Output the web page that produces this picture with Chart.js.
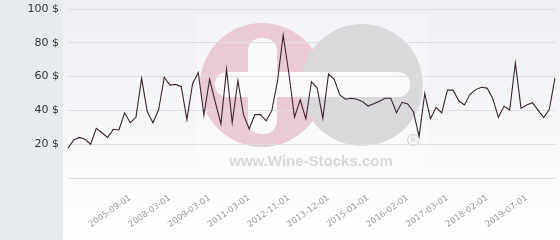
<!DOCTYPE html>
<html>
<head>
<meta charset="utf-8">
<script src="https://cdn.jsdelivr.net/npm/chart.js@4.4.1/dist/chart.umd.min.js"></script>
<style>
html,body{margin:0;padding:0;background:#fff;}
#c{display:block;}
</style>
</head>
<body>
<canvas id="c" width="560" height="240"></canvas>
<script>
// Price series (USD)
const prices = [17.6,22.5,24,22.9,20,29.4,26.8,24,28.8,28.4,
  38.6,32.7,35.9,59,39.2,32.7,40.4,59.6,55,55.4,
  54,34.5,55.8,62.4,37.3,58.4,45,32,64.3,32.7,
  57.6,37.3,29,37.5,37.5,33.8,40,57.5,84.6,62,
  35.9,46.2,35,57,53.2,35.3,61.5,58.5,49.1,46.6,
  47.2,46.6,45.2,42.6,44,45.4,47.2,47.2,38.6,44.8,
  43.8,39.2,24.6,50,35,41.8,38.5,52,52,45.7,
  43.2,49.5,52.3,53.7,53.2,47.2,35.9,42.4,40.2,68,
  41.2,43.2,44.6,40.2,35.7,40.6,59.3];
// Dates shown on the x axis
const tickDates = ['2005-09-01','2008-03-01','2009-03-01','2011-03-01','2012-11-01',
  '2013-12-01','2015-01-01','2016-02-01','2017-03-01','2018-02-01','2019-07-01'];
const firstTickIndex = 11;
const tickEvery = 7;
// y-axis tick values
const yTicks = [0,20,40,60,80,100];

const labels = prices.map((_, i) => {
  const k = i - firstTickIndex;
  return (k >= 0 && k % tickEvery === 0 && tickDates[k / tickEvery]) ? tickDates[k / tickEvery] : '';
});

function roundRect(ctx, x, y, w, h, r) {
  ctx.beginPath();
  ctx.moveTo(x + r, y);
  ctx.lineTo(x + w - r, y);
  ctx.arc(x + w - r, y + r, r, -Math.PI / 2, 0);
  ctx.lineTo(x + w, y + h - r);
  ctx.arc(x + w - r, y + h - r, r, 0, Math.PI / 2);
  ctx.lineTo(x + r, y + h);
  ctx.arc(x + r, y + h - r, r, Math.PI / 2, Math.PI);
  ctx.lineTo(x, y + r);
  ctx.arc(x + r, y + r, r, Math.PI, Math.PI * 1.5);
  ctx.closePath();
}

const bgPlugin = {
  id: 'bg',
  beforeDraw(chart) {
    const ctx = chart.ctx;
    const W = chart.width, H = chart.height;
    ctx.save();
    const g = ctx.createLinearGradient(0, 0, 0, H);
    g.addColorStop(0, '#eeeff4');
    g.addColorStop(1, '#ffffff');
    ctx.fillStyle = g;
    ctx.fillRect(0, 0, W, H);
    ctx.fillStyle = '#e7ebee';
    ctx.fillRect(0, 0, 63, H);
    // watermark
    ctx.fillStyle = 'rgba(255,255,255,0.3)';
    ctx.fillRect(197, 15, 230, 158);
    ctx.fillStyle = '#e9cbd3';
    ctx.beginPath(); ctx.arc(262, 85, 62, 0, Math.PI * 2); ctx.fill();
    ctx.fillStyle = '#d9d9db';
    ctx.beginPath(); ctx.arc(362, 85, 61, 0, Math.PI * 2); ctx.fill();
    ctx.fillStyle = '#fafafc';
    roundRect(ctx, 248, 38, 29, 96, 13); ctx.fill();
    roundRect(ctx, 215, 72, 195, 25, 12); ctx.fill();
    ctx.fillStyle = '#d8d8da';
    ctx.font = 'bold 15px "Liberation Sans", Arial, sans-serif';
    ctx.textAlign = 'center';
    ctx.textBaseline = 'alphabetic';
    ctx.fillText('www.Wine-Stocks.com', 311, 166);
    ctx.strokeStyle = '#d8d8da';
    ctx.lineWidth = 1.3;
    ctx.beginPath(); ctx.arc(413, 140, 5.5, 0, Math.PI * 2); ctx.stroke();
    ctx.font = 'bold 7px "Liberation Sans", Arial, sans-serif';
    ctx.textBaseline = 'middle';
    ctx.fillText('R', 413, 140.5);
    ctx.restore();
  }
};

new Chart(document.getElementById('c'), {
  type: 'line',
  data: {
    labels: labels,
    datasets: [{
      data: prices,
      borderColor: '#3a2232',
      borderWidth: 1.1,
      pointRadius: 0,
      tension: 0,
      fill: false
    }]
  },
  options: {
    responsive: false,
    animation: false,
    devicePixelRatio: 1,
    layout: { padding: { top: 9, right: 5, left: 0, bottom: 0 } },
    plugins: { legend: { display: false }, tooltip: { enabled: false } },
    scales: {
      x: {
        offset: false,
        grid: { display: false },
        border: { display: false },
        ticks: {
          autoSkip: false,
          maxRotation: 35,
          minRotation: 35,
          padding: 7,
          color: '#a0a0a0',
          font: { family: '"DejaVu Sans"', size: 8.5 }
        },
        afterFit(s) { s.height = 62; s.paddingLeft = 0; s.paddingRight = 0; }
      },
      y: {
        min: yTicks[0],
        max: yTicks[yTicks.length - 1],
        afterBuildTicks(s) { s.ticks = yTicks.map(v => ({ value: v })); },
        grid: { color: '#dedee2', drawTicks: false, lineWidth: 1 },
        border: { display: false },
        ticks: {
          padding: 9,
          color: '#333333',
          font: { family: '"DejaVu Sans"', size: 11 },
          callback: v => v === 0 ? '' : v + ' $'
        },
        afterFit(s) { s.width = 68; s.paddingTop = 0; s.paddingBottom = 0; }
      }
    }
  },
  plugins: [bgPlugin]
});
</script>
</body>
</html>
